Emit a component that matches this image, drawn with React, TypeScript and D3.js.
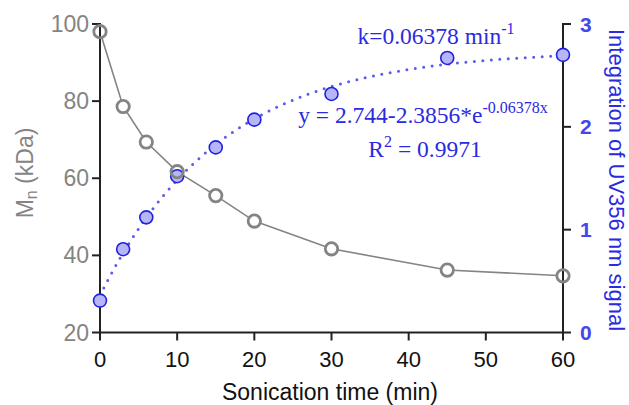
import React from "react";
import * as d3 from "d3";

const times = [0, 3, 6, 10, 15, 20, 30, 45, 60];
const mnValues = [98.0, 78.6, 69.4, 61.7, 55.5, 48.9, 41.7, 36.2, 34.7];
const uvValues = [0.31, 0.81, 1.12, 1.52, 1.8, 2.07, 2.32, 2.67, 2.7];
const xTicks = [0, 10, 20, 30, 40, 50, 60];
const leftTicks = [20, 40, 60, 80, 100];
const rightTicks = [0, 1, 2, 3];
const fitParams = [2.744, 2.3856, 0.06378];

const W = 629;
const H = 405;
const M = { left: 100, right: 563, top: 24, bottom: 332.5 };

export default function App() {
  const x = d3.scaleLinear().domain([0, 60]).range([M.left, M.right]);
  const yL = d3.scaleLinear().domain([20, 100]).range([M.bottom, M.top]);
  const yR = d3.scaleLinear().domain([0, 3]).range([M.bottom, M.top]);

  const mnLine = d3
    .line<number>()
    .x((_, i) => x(times[i]))
    .y((d) => yL(d))(mnValues) as string;

  const [a, b, k] = fitParams;
  const fitXs = d3.range(0, 60.01, 0.25);
  const fitLine = d3
    .line<number>()
    .x((t) => x(t))
    .y((t) => yR(a - b * Math.exp(-k * t)))(fitXs) as string;

  const axisColor = "#222";
  const gray = "#848484";
  const blue = "#2a2ae0";
  const tickBlue = "#4646ee";
  const sans = "Liberation Sans, Arial, sans-serif";
  const serif = "Liberation Serif, Times New Roman, serif";

  return (
    <svg width={W} height={H} style={{ position: "absolute", left: 0, top: 0 }}>
      <rect width={W} height={H} fill="#fff" />
      <path d={mnLine} fill="none" stroke={gray} strokeWidth={1.6} />
      {times.map((t, i) => (
        <circle key={"gb" + i} cx={x(t)} cy={yL(mnValues[i])} r={6.5} fill="#fff" />
      ))}
      <path
        d={fitLine}
        fill="none"
        stroke="#5a5aee"
        strokeWidth={3}
        strokeDasharray="0 8.5"
        strokeLinecap="round"
      />
      <line x1={M.left} x2={M.left} y1={M.top - 1} y2={M.bottom + 1} stroke={axisColor} strokeWidth={2} />
      <line x1={M.right} x2={M.right} y1={M.top - 1} y2={M.bottom + 1} stroke={axisColor} strokeWidth={2} />
      <line x1={M.left - 1} x2={M.right + 1} y1={M.bottom} y2={M.bottom} stroke={axisColor} strokeWidth={2} />
      {xTicks.map((t) => (
        <g key={"xt" + t}>
          <line x1={x(t)} x2={x(t)} y1={M.bottom} y2={M.bottom + 8} stroke={axisColor} strokeWidth={2} />
          <text x={x(t)} y={M.bottom + 34.5} textAnchor="middle" fontFamily={sans} fontSize={22} fill="#111">
            {t}
          </text>
        </g>
      ))}
      {leftTicks.map((t) => (
        <g key={"lt" + t}>
          <line x1={M.left - 8} x2={M.left} y1={yL(t)} y2={yL(t)} stroke={axisColor} strokeWidth={2} />
          <text x={M.left - 11} y={yL(t) + 8} textAnchor="end" fontFamily={sans} fontSize={23} fill={gray}>
            {t}
          </text>
        </g>
      ))}
      {rightTicks.map((t) => (
        <g key={"rt" + t}>
          <line x1={M.right} x2={M.right + 8} y1={yR(t)} y2={yR(t)} stroke={axisColor} strokeWidth={2} />
          <text x={M.right + 17} y={yR(t) + 7.5} textAnchor="start" fontFamily={sans} fontSize={21} fontWeight="bold" fill={tickBlue}>
            {t}
          </text>
        </g>
      ))}
      {times.map((t, i) => (
        <circle key={"u" + i} cx={x(t)} cy={yR(uvValues[i])} r={6.5} fill="#b6b6f6" stroke="#2020e0" strokeWidth={1.6} />
      ))}
      {times.map((t, i) => (
        <circle key={"g" + i} cx={x(t)} cy={yL(mnValues[i])} r={6.2} fill="none" stroke={gray} strokeWidth={2.8} />
      ))}
      <text x={330} y={400} textAnchor="middle" fontFamily={sans} fontSize={23} fill="#111">
        Sonication time (min)
      </text>
      <text
        transform={`translate(33, 173) rotate(-90)`}
        textAnchor="middle"
        fontFamily={sans}
        fontSize={23}
        fill={gray}
      >
        M<tspan fontSize={16} dy={4}>n</tspan>
        <tspan dy={-4}> (kDa)</tspan>
      </text>
      <text
        transform={`translate(609, 180) rotate(90)`}
        textAnchor="middle"
        fontFamily={sans}
        fontSize={22}
        fill={blue}
      >
        Integration of UV356 nm signal
      </text>
      <text x={436} y={44} textAnchor="middle" fontFamily={serif} fontSize={23.5} fill={blue}>
        k=0.06378 min<tspan fontSize={16} dy={-10}>-1</tspan>
      </text>
      <text x={423} y={123} textAnchor="middle" fontFamily={serif} fontSize={23.5} fill={blue}>
        y = 2.744-2.3856*e<tspan fontSize={16} dy={-10}>-0.06378x</tspan>
      </text>
      <text x={425} y={157} textAnchor="middle" fontFamily={serif} fontSize={23.5} fill={blue}>
        R<tspan fontSize={16} dy={-10}>2</tspan>
        <tspan dy={10}> = 0.9971</tspan>
      </text>
    </svg>
  );
}
